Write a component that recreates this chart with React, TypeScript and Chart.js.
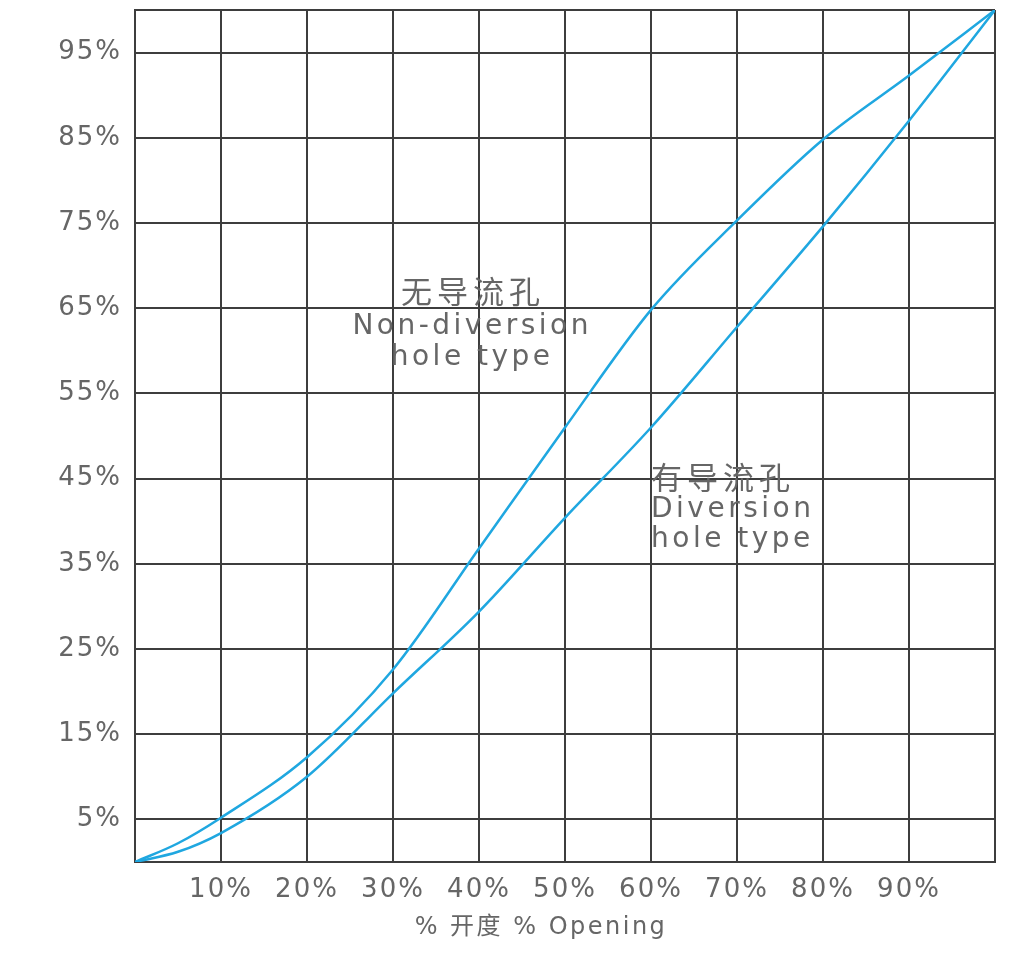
import { useEffect, useRef } from 'react';
import { Chart, registerables } from 'chart.js';

Chart.register(...registerables);

// ---- data ----
const xOpening = [0, 5, 10, 20, 30, 40, 50, 60, 70, 80, 90, 100];
const nonDiversion = [0, 2.2, 5.2, 12.3, 22.6, 36.8, 51.0, 64.8, 75.3, 84.8, 92.3, 100];
const diversion = [0, 1.2, 3.4, 10.0, 19.8, 29.4, 40.4, 51.0, 62.8, 74.6, 87.0, 100];
const xTickValues = [0, 10, 20, 30, 40, 50, 60, 70, 80, 90, 100];
const yTickValues = [0, 5, 15, 25, 35, 45, 55, 65, 75, 85, 95, 100];
const nonDiversionLabel = ['无导流孔', 'Non-diversion', 'hole type'];
const diversionLabel = ['有导流孔', 'Diversion', 'hole type'];
const xTitle = '% 开度 % Opening';

const LINE_COLOR = '#1fa7e0';
const GRID_COLOR = '#3d3d3d';
const TEXT_COLOR = '#666666';
const FONT = "'DejaVu Sans', 'Noto Sans CJK SC', sans-serif";

export default function App() {
  const ref = useRef<HTMLCanvasElement>(null);

  useEffect(() => {
    const canvas = ref.current!;
    const textPlugin = {
      id: 'annotText',
      beforeDraw(chart: any) {
        (chart.ctx as any).letterSpacing = '2px';
      },
      beforeDatasetsDraw(chart: any) {
        const ctx = chart.ctx as CanvasRenderingContext2D & { letterSpacing?: string };
        const xs = chart.scales.x;
        const ys = chart.scales.y;
        const drawBlock = (lines: string[], ax: number, ay: number, align: CanvasTextAlign, baselines: number[]) => {
          const px = xs.getPixelForValue(ax);
          const py = ys.getPixelForValue(ay);
          ctx.save();
          ctx.fillStyle = TEXT_COLOR;
          ctx.textAlign = align;
          ctx.textBaseline = 'alphabetic';
          lines.forEach((t, i) => {
            const cjk = i === 0;
            ctx.font = cjk ? `31px 'Noto Sans CJK SC', sans-serif` : `28px ${FONT}`;
            ctx.letterSpacing = cjk ? '5px' : '3.5px';
            const off = align === 'center' ? (cjk ? 2.5 : 1.75) : 0;
            ctx.fillText(t, px + off, py + baselines[i]);
          });
          ctx.restore();
        };
        drawBlock(nonDiversionLabel, 39, 65.6, 'center', [0, 31, 62]);
        drawBlock(diversionLabel, 60, 43.8, 'left', [0, 28, 58]);
        // axis title
        ctx.save();
        ctx.fillStyle = TEXT_COLOR;
        ctx.font = `24px ${FONT}`;
        ctx.letterSpacing = '2.5px';
        ctx.textAlign = 'center';
        ctx.textBaseline = 'alphabetic';
        ctx.fillText(xTitle, 541, 934);
        ctx.restore();
      },
    };

    const chart = new Chart(canvas, {
      type: 'line',
      data: {
        datasets: [
          {
            label: 'Non-diversion hole type',
            data: xOpening.map((x, i) => ({ x, y: nonDiversion[i] })),
            borderColor: LINE_COLOR,
            borderWidth: 2.5,
            pointRadius: 0,
            cubicInterpolationMode: 'monotone',
            fill: false,
          },
          {
            label: 'Diversion hole type',
            data: xOpening.map((x, i) => ({ x, y: diversion[i] })),
            borderColor: LINE_COLOR,
            borderWidth: 2.5,
            pointRadius: 0,
            cubicInterpolationMode: 'monotone',
            fill: false,
          },
        ],
      },
      options: {
        responsive: false,
        animation: false,
        layout: { padding: { top: 10, right: 21, left: 0, bottom: 0 } },
        plugins: {
          legend: { display: false },
          tooltip: { enabled: false },
        },
        scales: {
          x: {
            type: 'linear',
            min: 0,
            max: 100,
            afterBuildTicks: (scale: any) => {
              scale.ticks = xTickValues.map((v) => ({ value: v }));
            },
            afterFit: (scale: any) => {
              scale.height = 93;
              scale.paddingLeft = 0;
              scale.paddingRight = 0;
            },
            grid: { color: GRID_COLOR, lineWidth: 2, drawTicks: false },
            border: { display: true, color: GRID_COLOR, width: 2 },
            ticks: {
              autoSkip: false,
              maxRotation: 0,
              padding: 13,
              color: TEXT_COLOR,
              font: { family: FONT, size: 26 },
              callback: (v: any) => (v === 0 || v === 100 ? '' : `${v}%`),
            },
          },
          y: {
            type: 'linear',
            min: 0,
            max: 100,
            afterBuildTicks: (scale: any) => {
              scale.ticks = yTickValues.map((v) => ({ value: v }));
            },
            afterFit: (scale: any) => {
              scale.width = 135;
              scale.paddingTop = 0;
              scale.paddingBottom = 0;
            },
            grid: { color: GRID_COLOR, lineWidth: 2, drawTicks: false },
            border: { display: true, color: GRID_COLOR, width: 2 },
            ticks: {
              autoSkip: false,
              padding: 13,
              color: TEXT_COLOR,
              font: { family: FONT, size: 26 },
              callback: (v: any) => (v === 0 || v === 100 ? '' : `${v}%`),
            },
          },
        },
      },
      plugins: [textPlugin],
    } as any);

    return () => chart.destroy();
  }, []);

  return (
    <canvas
      ref={ref}
      width={1016}
      height={955}
      style={{ position: 'absolute', left: 0, top: 0, display: 'block', width: 1016, height: 955 }}
    />
  );
}
